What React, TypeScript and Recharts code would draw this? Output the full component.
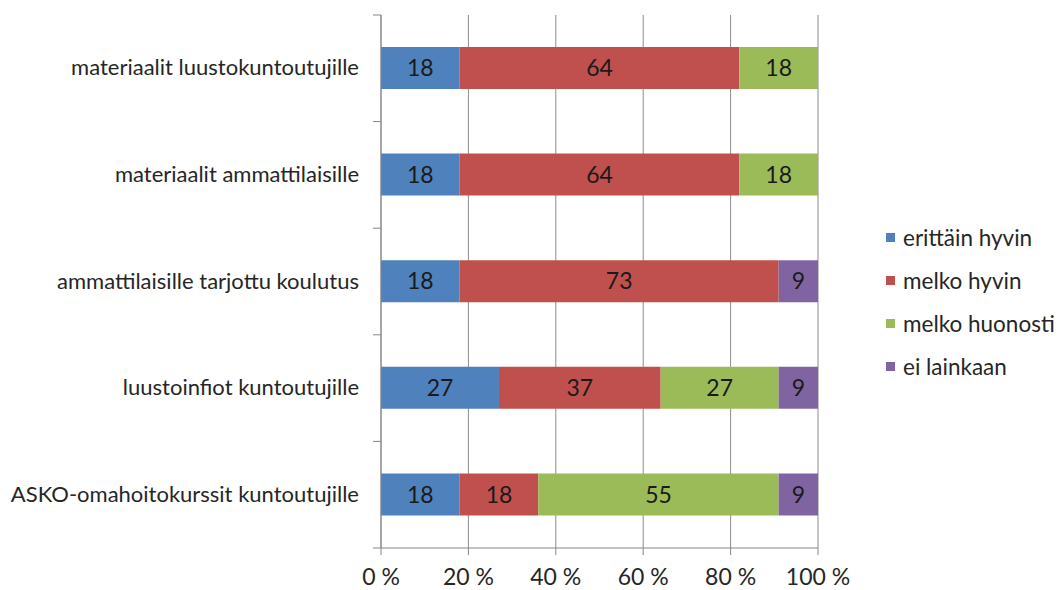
import { BarChart, Bar, XAxis, YAxis, CartesianGrid, LabelList } from "recharts";

const categories = [
	"materiaalit luustokuntoutujille",
	"materiaalit ammattilaisille",
	"ammattilaisille tarjottu koulutus",
	"luustoinfiot kuntoutujille",
	"ASKO-omahoitokurssit kuntoutujille",
];
const erittainHyvin = [18, 18, 18, 27, 18];
const melkoHyvin = [64, 64, 73, 37, 18];
const melkoHuonosti = [18, 18, 0, 27, 55];
const eiLainkaan = [0, 0, 9, 9, 9];
const xTicks = [0, 20, 40, 60, 80, 100];

const series = [
	{ key: "a", name: "erittäin hyvin", color: "#4F81BD", values: erittainHyvin },
	{ key: "b", name: "melko hyvin", color: "#C0504D", values: melkoHyvin },
	{ key: "c", name: "melko huonosti", color: "#9BBB59", values: melkoHuonosti },
	{ key: "d", name: "ei lainkaan", color: "#8064A2", values: eiLainkaan },
];

const data = categories.map((name, i) => {
	const row: Record<string, string | number> = { name };
	for (const s of series) row[s.key] = s.values[i];
	return row;
});

const FONT = "Lato, 'Open Sans', sans-serif";
const FS = 23;
const TOP = 15;
const BOTTOM = 42;
const H = 590;
const BAND = (H - TOP - BOTTOM) / categories.length;

const CategoryTick = (props: any) => {
	const { x, y, payload, index } = props;
	return (
		<g>
			<line x1={x} x2={x + 8} y1={y - BAND / 2} y2={y - BAND / 2} stroke="#868686" />
			{index === categories.length - 1 && (
				<line x1={x} x2={x + 8} y1={y + BAND / 2} y2={y + BAND / 2} stroke="#868686" />
			)}
			<text x={x - 14} y={y} dy={7} textAnchor="end" fill="#262626" fontSize={22} fontFamily={FONT}>
				{payload.value}
			</text>
		</g>
	);
};

export default function App() {
	return (
		<div style={{ position: "absolute", left: 0, top: 0, width: 1059, height: 590, background: "#fff" }}>
			<BarChart
				width={1059}
				height={590}
				data={data}
				layout="vertical"
				margin={{ top: TOP, right: 241, left: 0, bottom: BOTTOM - 30 }}
			>
				<CartesianGrid horizontal={false} stroke="#8c8c8c" />
				<XAxis
					type="number"
					domain={[0, 100]}
					ticks={xTicks}
					tickFormatter={(v) => `${v} %`}
					height={30}
					stroke="#868686"
					tickSize={7}
					tick={{ fill: "#262626", fontSize: FS, fontFamily: FONT, dy: 12 }}
				/>
				<YAxis
					type="category"
					dataKey="name"
					width={381}
					stroke="#868686"
					tickLine={false}
					tick={<CategoryTick />}
				/>
				{series.map((s) => (
					<Bar
						key={s.key}
						dataKey={s.key}
						name={s.name}
						stackId="s"
						fill={s.color}
						barSize={42}
						isAnimationActive={false}
					>
						<LabelList
							dataKey={s.key}
							position="center"
							fill="#1a1a1a"
							fontSize={FS}
							fontFamily={FONT}
							formatter={(v: any) => (v ? v : "")}
						/>
					</Bar>
				))}
			</BarChart>
			<div
				style={{
					position: "absolute",
					left: 886,
					top: 216,
					fontFamily: FONT,
					fontSize: 22.5,
					color: "#262626",
				}}
			>
				{series.map((s) => (
					<div key={s.key} style={{ display: "flex", alignItems: "center", height: 43 }}>
						<div style={{ width: 9, height: 9, background: s.color, marginRight: 8 }} />
						<span>{s.name}</span>
					</div>
				))}
			</div>
		</div>
	);
}
